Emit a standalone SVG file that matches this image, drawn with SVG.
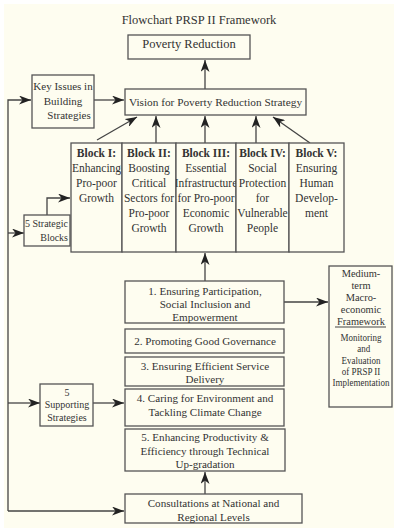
<svg xmlns="http://www.w3.org/2000/svg" width="400" height="532" viewBox="0 0 400 532">
<style>
text{font-family:"Liberation Serif","Times New Roman",serif;fill:#333;font-size:11px;text-anchor:middle}
.t{font-size:12.5px}
.k{font-size:11.5px}
.b{font-weight:bold}
.st{font-size:11.1px}
.s{font-size:10px}
.m{font-size:10.4px}
.n{font-size:9.8px}
.box{fill:#fefdf0;stroke:#555;stroke-width:1.3}
.ln{fill:none;stroke:#444;stroke-width:1.3}
</style>
<defs>
<marker id="ah" markerUnits="userSpaceOnUse" markerWidth="13" markerHeight="9" refX="12" refY="4.5" orient="auto">
<path d="M0,0 L12,4.5 L0,9 L3.5,4.5 z" fill="#222"/>
</marker>
<clipPath id="c3"><rect x="176" y="143" width="60" height="109"/></clipPath>
</defs>
<rect width="400" height="532" fill="#ffffff"/>
<rect x="4" y="4" width="390" height="524" fill="#fefdf0"/>
<text class="t" x="199" y="24">Flowchart PRSP II Framework</text>

<g id="connectors">
<path class="ln" d="M205,89 V60" marker-end="url(#ah)"/>
<path class="ln" d="M94,100 H124" marker-end="url(#ah)"/>
<path class="ln" d="M8,511 V100 H31" marker-end="url(#ah)"/>
<path class="ln" d="M8,233 H24" marker-end="url(#ah)"/>
<path class="ln" d="M8,403 H40" marker-end="url(#ah)"/>
<path class="ln" d="M8,511 H124" marker-end="url(#ah)"/>
<path class="ln" d="M93,403 H124" marker-end="url(#ah)"/>
<path class="ln" d="M47,215 V198 H70" marker-end="url(#ah)"/>
<path class="ln" d="M97,140 L137,117" marker-end="url(#ah)"/>
<path class="ln" d="M156,143 V116" marker-end="url(#ah)"/>
<path class="ln" d="M205,143 V116" marker-end="url(#ah)"/>
<path class="ln" d="M256,143 V116" marker-end="url(#ah)"/>
<path class="ln" d="M310,143 L273,117" marker-end="url(#ah)"/>
<path class="ln" d="M205,281 V253" marker-end="url(#ah)"/>
<path class="ln" d="M205,494 V472" marker-end="url(#ah)"/>
<path class="ln" d="M284,302 H328" marker-end="url(#ah)"/>
</g>

<g id="poverty">
<rect class="box" x="128" y="35" width="122" height="24"/>
<text class="t" x="189" y="48">Poverty Reduction</text>
</g>
<g id="vision">
<rect class="box" x="125" y="89" width="181" height="26"/>
<text style="font-size:11.3px" x="215.5" y="106">Vision for Poverty Reduction Strategy</text>
</g>
<g id="keyissues">
<rect class="box" x="32" y="75" width="62" height="53"/>
<text x="63" y="90">Key Issues in</text>
<text x="63" y="104.5">Building</text>
<text x="69" y="119">Strategies</text>
</g>

<g id="strategic-blocks">
<rect class="box" x="24" y="215" width="46" height="31"/>
<text class="s" x="46.5" y="227">5 Strategic</text>
<text class="s" x="68" y="241" style="text-anchor:end">Blocks</text>
</g>

<g id="block1">
<rect class="box" x="71" y="143" width="51" height="109"/>
<text class="k b" x="96.5" y="157">Block I:</text>
<text class="k" x="96.5" y="172">Enhancing</text>
<text class="k" x="96.5" y="187">Pro-poor</text>
<text class="k" x="96.5" y="202">Growth</text>
</g>
<g id="block2">
<rect class="box" x="122" y="143" width="54" height="109"/>
<text class="k b" x="149" y="157">Block II:</text>
<text class="k" x="149" y="172">Boosting</text>
<text class="k" x="149" y="187">Critical</text>
<text class="k" x="149" y="202">Sectors for</text>
<text class="k" x="149" y="217">Pro-poor</text>
<text class="k" x="149" y="232">Growth</text>
</g>
<g id="block3">
<rect class="box" x="176" y="143" width="60" height="109"/>
<g clip-path="url(#c3)">
<text class="k b" x="206" y="157">Block III:</text>
<text class="k" x="206" y="172">Essential</text>
<text class="k" x="206" y="187">Infrastructure</text>
<text class="k" x="206" y="202">for Pro-poor</text>
<text class="k" x="206" y="217">Economic</text>
<text class="k" x="206" y="232">Growth</text>
</g>
</g>
<g id="block4">
<rect class="box" x="236" y="143" width="53" height="109"/>
<text class="k b" x="262.5" y="157">Block IV:</text>
<text class="k" x="262.5" y="172">Social</text>
<text class="k" x="262.5" y="187">Protection</text>
<text class="k" x="262.5" y="202">for</text>
<text class="k" x="262.5" y="217">Vulnerable</text>
<text class="k" x="262.5" y="232">People</text>
</g>
<g id="block5">
<rect class="box" x="289" y="143" width="55" height="109"/>
<text class="k b" x="316.5" y="157">Block V:</text>
<text class="k" x="316.5" y="172">Ensuring</text>
<text class="k" x="316.5" y="187">Human</text>
<text class="k" x="316.5" y="202">Develop-</text>
<text class="k" x="316.5" y="217">ment</text>
</g>

<g id="strategy1">
<rect class="box" x="125" y="281" width="159" height="42"/>
<text class="st" x="205" y="294.5">1. Ensuring Participation,</text>
<text class="st" x="205" y="307.5">Social Inclusion and</text>
<text class="st" x="205" y="320.5">Empowerment</text>
</g>
<g id="strategy2">
<rect class="box" x="125" y="329" width="159" height="24"/>
<text class="st" x="205" y="345">2. Promoting Good Governance</text>
</g>
<g id="strategy3">
<rect class="box" x="125" y="357" width="159" height="29"/>
<text class="st" x="205" y="369.5">3. Ensuring Efficient Service</text>
<text class="st" x="205" y="383">Delivery</text>
</g>
<g id="strategy4">
<rect class="box" x="125" y="389" width="159" height="37"/>
<text class="st" x="205" y="401.5">4. Caring for Environment and</text>
<text class="st" x="205" y="415.5">Tackling Climate Change</text>
</g>
<g id="strategy5">
<rect class="box" x="125" y="429" width="160" height="42"/>
<text class="st" x="205" y="441">5. Enhancing Productivity &amp;</text>
<text class="st" x="205" y="454.5">Efficiency through Technical</text>
<text class="st" x="205" y="467.5">Up-gradation</text>
</g>
<g id="consultations">
<rect class="box" x="125" y="494" width="177" height="29"/>
<text class="st" x="213.5" y="507">Consultations at National and</text>
<text class="st" x="213.5" y="520.5">Regional Levels</text>
</g>

<g id="supporting">
<rect class="box" x="40" y="384" width="53" height="42"/>
<text class="s" x="67" y="396">5</text>
<text class="s" x="67" y="408">Supporting</text>
<text class="s" x="67" y="420.5">Strategies</text>
</g>

<g id="medium">
<rect class="box" x="329" y="266" width="63" height="141"/>
<text class="m" x="361" y="277">Medium-</text>
<text class="m" x="361" y="289">term</text>
<text class="m" x="361" y="301">Macro-</text>
<text class="m" x="361" y="313">economic</text>
<text class="m" x="361" y="324.5">Framework</text>
<line x1="335" y1="327" x2="386" y2="327" stroke="#444" stroke-width="1"/>
<g transform="translate(361,0) scale(0.92,1)">
<text class="n" x="0" y="341">Monitoring</text>
<text class="n" x="3" y="352.3">and</text>
<text class="n" x="0" y="363.6">Evaluation</text>
<text class="n" x="0" y="374.9">of  PRSP II</text>
<text class="n" x="0" y="386.2">Implementation</text>
</g>
</g>
</svg>
